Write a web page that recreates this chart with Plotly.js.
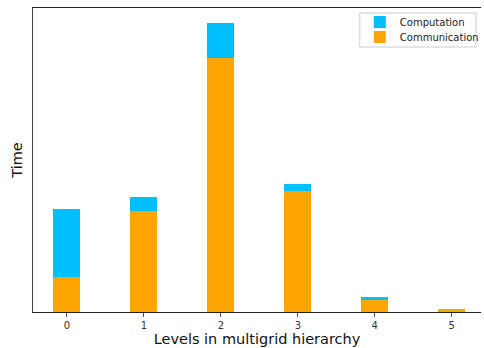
<!DOCTYPE html>
<html>
<head>
<meta charset="utf-8">
<script src="https://cdn.plot.ly/plotly-3.0.1.min.js"></script>
<style>html,body{margin:0;padding:0;background:#fff;overflow:hidden;}#chart{width:484px;height:348px;}</style>
</head>
<body>
<div id="chart"></div>
<script>
const levels = [0, 1, 2, 3, 4, 5];
const tickLabels = ["0", "1", "2", "3", "4", "5"];
const communication = [35.3, 101, 253.7, 121, 12.3, 3.0];
const computation = [67.7, 14, 35.6, 7.3, 2.7, 0.3];

const traces = [
  {type: "bar", name: "Communication", x: levels, y: communication, width: 0.35,
   marker: {color: "#FFA500", line: {width: 0}}, legend: "legend2"},
  {type: "bar", name: "Computation", x: levels, y: computation, width: 0.35,
   marker: {color: "#00BFFF", line: {width: 0}}, legend: "legend"}
];

// plot area: x 33..484, y 8..312
const PW = 451, PH = 304, L = 33, T = 8;
const px = v => (v - L) / PW;
const py = v => (T + PH - v) / PH;
const legFont = {size: 10, family: "DejaVu Sans", color: "#222"};
const layout = {
  width: 484, height: 348,
  margin: {l: 33, r: 0, t: 8, b: 36, pad: 0},
  barmode: "stack",
  paper_bgcolor: "#fff", plot_bgcolor: "#fff",
  font: {family: "DejaVu Sans", color: "#000"},
  showlegend: true,
  legend: {x: px(362), xanchor: "left", y: py(22), yanchor: "middle",
    bgcolor: "rgba(0,0,0,0)", borderwidth: 0, font: legFont, itemwidth: 30},
  legend2: {x: px(362), xanchor: "left", y: py(37), yanchor: "middle",
    bgcolor: "rgba(0,0,0,0)", borderwidth: 0, font: legFont, itemwidth: 30},
  shapes: [{type: "rect", xref: "paper", yref: "paper", x0: px(362), x1: px(479), y0: py(13), y1: py(47),
    line: {color: "#ccc", width: 1}, fillcolor: "rgba(255,255,255,0.8)", layer: "above"}],
  xaxis: {range: [-0.44, -0.44 + PW / 77.5], tickvals: levels, ticktext: tickLabels,
    showgrid: false, zeroline: false, showline: true, mirror: true, linecolor: "#222", linewidth: 1,
    ticks: "outside", ticklen: 3.5, tickwidth: 0.8, tickcolor: "#222",
    tickfont: {size: 10, family: "DejaVu Sans", color: "#333"},
    title: {text: "Levels in multigrid hierarchy", font: {size: 14.5, family: "DejaVu Sans", color: "#111"}, standoff: 4}},
  yaxis: {range: [0, 304], showticklabels: false, ticks: "", showgrid: false, zeroline: false,
    showline: true, linecolor: "#444", linewidth: 1,
    title: {text: "Time", font: {size: 14.5, family: "DejaVu Sans", color: "#111"}, standoff: 5}}
};

Plotly.newPlot("chart", traces, layout, {displayModeBar: false, staticPlot: true});
</script>
</body>
</html>
